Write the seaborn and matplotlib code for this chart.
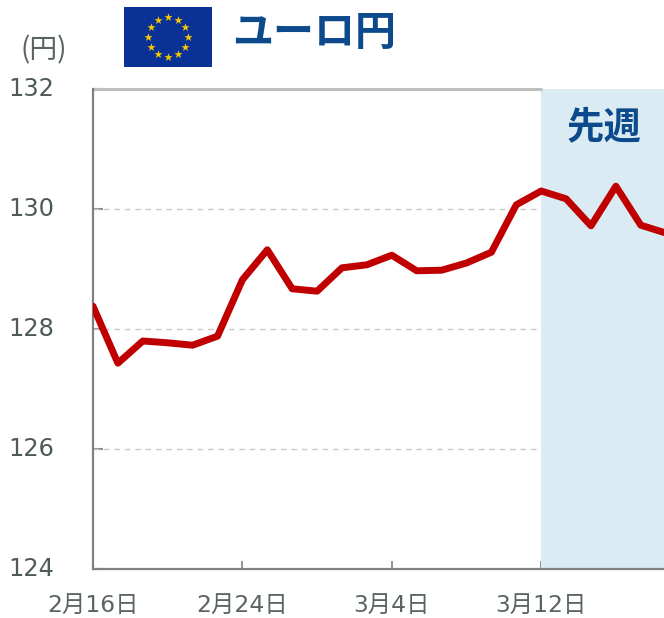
import numpy as np
import pandas as pd
import seaborn as sns
import matplotlib
matplotlib.use("Agg")
import matplotlib.pyplot as plt
from matplotlib.transforms import ScaledTranslation
from matplotlib.patches import Rectangle

positions = list(range(24))
rates = [128.38, 127.43, 127.80, 127.77, 127.73, 127.88, 128.82, 129.32,
         128.67, 128.63, 129.02, 129.07, 129.23, 128.97, 128.98, 129.10,
         129.28, 130.07, 130.30, 130.17, 129.72, 130.38, 129.73, 129.60]
x_tick_positions = [0, 6, 12, 18]
x_tick_labels = ["2月16日", "2月24日", "3月4日", "3月12日"]
y_ticks = [124, 126, 128, 130, 132]
unit_label = "(円)"
title = "ユーロ円"
band_label = "先週"
band_start = 18
star_angles_deg = [90, 60, 30, 0, -30, -60, -90, -120, -150, 180, 150, 120]

W, H = 664, 618
sns.set_theme(style="white")
mixed = ["DejaVu Sans", "Noto Sans CJK JP"]
plt.rcParams["font.family"] = ["Noto Sans CJK JP", "DejaVu Sans"]

fig = plt.figure(figsize=(W / 100, H / 100), dpi=100, facecolor="white")
left, right, top, bottom = 93, 664, 89, 569
ax = fig.add_axes([left / W, 1 - bottom / H, (right - left) / W, (bottom - top) / H])
xmax = (right - left) / 24.9
ax.set_xlim(0, xmax)
ax.set_ylim(124, 132)

ax.axvspan(band_start, xmax, color="#daebf3", zorder=1.5, lw=0)
for v in [126, 128, 130]:
    ax.axhline(v, color="#c8c8c8", lw=1.0, ls=(0, (4, 3.5)), zorder=1)

df = pd.DataFrame({"pos": positions, "rate": rates})
sns.lineplot(data=df, x="pos", y="rate", ax=ax, color="#c00000", lw=5.0,
             zorder=3, errorbar=None)
for ln in ax.get_lines():
    ln.set_solid_joinstyle("round")
ax.set_xlabel("")
ax.set_ylabel("")

ax.set_xticks(x_tick_positions, x_tick_labels, family=mixed)
ax.set_yticks(y_ticks)
ax.tick_params(axis="x", bottom=True, direction="in", length=5.8, width=1.2, color="#808080",
               labelsize=16.8, labelcolor="#5a6464", pad=18)
ax.tick_params(axis="y", left=True, direction="in", length=7.2, width=1.5, color="#909090",
               labelsize=17.3, labelcolor="#4e5a5a", pad=28)
for lab in ax.get_yticklabels():
    lab.set_family(mixed)
shift = ScaledTranslation(0, 3 / 100, fig.dpi_scale_trans)
for lab in ax.get_yticklabels():
    lab.set_transform(lab.get_transform() + shift)

ax.spines["right"].set_visible(False)
ax.spines["top"].set_visible(False)
ax.plot([0, band_start], [132, 132], color="#bfbfbf", lw=2.2, clip_on=False, zorder=2)
ax.spines["left"].set_color("#808080")
ax.spines["left"].set_linewidth(1.6)
ax.spines["bottom"].set_color("#808080")
ax.spines["bottom"].set_linewidth(1.6)

fig.text(604 / W, 1 - 127 / H, band_label, ha="center", va="center",
         fontsize=27, fontweight="bold", color="#0d4a8c", zorder=4)
fig.text(44 / W, 1 - 50 / H, unit_label, ha="center", va="center",
         fontsize=20, color="#5a6464")
fig.text(314 / W, 1 - 33 / H, title, ha="center", va="center",
         fontsize=29.5, fontweight="bold", color="#0d4a8c")

# EU flag drawn as a small axes
flag = fig.add_axes([124 / W, 1 - 67 / H, 88 / W, 60 / H])
flag.set_xlim(-44, 44)
flag.set_ylim(-30, 30)
flag.axis("off")
flag.add_patch(Rectangle((-44, -30), 88, 60, color="#0a3296", lw=0))
ang = np.deg2rad(star_angles_deg)
flag.scatter(20 * np.cos(ang), 20 * np.sin(ang), marker="*", s=38,
             color="#f8c800", lw=0, zorder=3)

fig.savefig("out.png", dpi=100)
